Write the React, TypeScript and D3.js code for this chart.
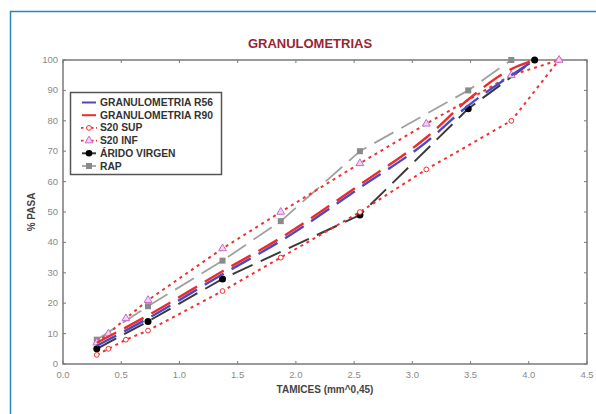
import * as d3 from 'd3';

// Tamices in mm^0.45 units
const TAM_GRAN = [0.29, 0.73, 1.37, 1.87, 2.55, 3.12, 3.48, 3.85, 4.05];
const R56 = [6, 15, 29.5, 40.5, 58, 73, 85, 95, 100];
const R90 = [7, 16, 30.5, 41.5, 59, 74.5, 87, 97, 100];

const TAM_S20 = [0.29, 0.39, 0.54, 0.73, 1.37, 1.87, 2.55, 3.12, 3.85, 4.26];
const S20_SUP = [3, 5, 8, 11, 24, 35, 50, 64, 80, 100];
const S20_INF = [7, 10, 15, 21, 38, 50, 66, 79, 95, 100];

const TAM_ARIDO = [0.29, 0.73, 1.37, 2.55, 3.48, 4.05];
const ARIDO = [5, 14, 28, 49, 84, 100];

const TAM_RAP = [0.29, 0.73, 1.37, 1.87, 2.55, 3.48, 3.85];
const RAP = [8, 19, 34, 47, 70, 90, 100];

const X_TICKS = [0, 0.5, 1, 1.5, 2, 2.5, 3, 3.5, 4, 4.5];
const Y_TICKS = [0, 10, 20, 30, 40, 50, 60, 70, 80, 90, 100];

const LEGEND = ['GRANULOMETRIA R56', 'GRANULOMETRIA R90', 'S20 SUP', 'S20 INF', 'ÁRIDO VIRGEN', 'RAP'];

const W = 596;
const H = 414;
const PLOT = { left: 63, right: 587, top: 60, bottom: 364 };
const FONT = '"Liberation Sans", Arial, sans-serif';

const C = {
  blue: '#4a4ac8',
  red: '#ec2c2c',
  dotted: '#f03030',
  black: '#3a3a3a',
  gray: '#a0a0a0',
  grayMark: '#8a8a8a',
  pink: '#c86ac8',
  frame: '#2a86c0',
};

const x = d3.scaleLinear().domain([0, 4.5]).range([PLOT.left, PLOT.right]);
const y = d3.scaleLinear().domain([0, 100]).range([PLOT.bottom, PLOT.top]);

type Pt = [number, number];
const zip = (xs: number[], ys: number[]): Pt[] => xs.map((v, i) => [v, ys[i]]);

const lineLinear = d3.line<Pt>().x((d) => x(d[0])).y((d) => y(d[1]));
const lineSmooth = d3
  .line<Pt>()
  .x((d) => x(d[0]))
  .y((d) => y(d[1]))
  .curve(d3.curveMonotoneX);

const tri = d3.symbol().type(d3.symbolTriangle).size(26);

export default function App() {
  const s20Sup = zip(TAM_S20, S20_SUP);
  const s20Inf = zip(TAM_S20, S20_INF);
  const arido = zip(TAM_ARIDO, ARIDO);
  const rap = zip(TAM_RAP, RAP);
  const r56 = zip(TAM_GRAN, R56);
  const r90 = zip(TAM_GRAN, R90);

  const legendY = (i: number) => 102.5 + i * 12.7;

  return (
    <div style={{ position: 'absolute', left: 0, top: 0 }}>
      <svg width={W} height={H} style={{ display: 'block', background: '#fff' }} fontFamily={FONT}>
        {/* frame */}
        <path d={`M10.5,${H} V11.5 H${W}`} fill="none" stroke={C.frame} strokeWidth={1.5} />

        {/* title */}
        <text x={310} y={48} textAnchor="middle" fontSize={13} fontWeight="bold" fill="#9a2434">
          GRANULOMETRIAS
        </text>

        {/* plot border */}
        <rect
          x={PLOT.left}
          y={PLOT.top}
          width={PLOT.right - PLOT.left}
          height={PLOT.bottom - PLOT.top}
          fill="none"
          stroke="#7a7a7a"
          strokeWidth={1.5}
        />

        {/* ticks */}
        {X_TICKS.map((t) => (
          <g key={`x${t}`}>
            <line x1={x(t)} x2={x(t)} y1={PLOT.bottom} y2={PLOT.bottom - 3} stroke="#7a7a7a" />
            <line x1={x(t)} x2={x(t)} y1={PLOT.top} y2={PLOT.top + 3} stroke="#7a7a7a" />
            <text x={x(t)} y={PLOT.bottom + 14} textAnchor="middle" fontSize={9.5} fill="#8a8a8a">
              {d3.format('.1f')(t)}
            </text>
          </g>
        ))}
        {Y_TICKS.map((t) => (
          <g key={`y${t}`}>
            <line x1={PLOT.left} x2={PLOT.left + 3} y1={y(t)} y2={y(t)} stroke="#7a7a7a" />
            <line x1={PLOT.right} x2={PLOT.right - 3} y1={y(t)} y2={y(t)} stroke="#7a7a7a" />
            <text x={58} y={y(t) + 3} textAnchor="end" fontSize={9.5} fill="#8a8a8a">
              {t}
            </text>
          </g>
        ))}

        {/* axis titles */}
        <text x={(PLOT.left + PLOT.right) / 2} y={393} textAnchor="middle" fontSize={10} fontWeight="bold" fill="#444">
          TAMICES (mm^0,45)
        </text>
        <text
          transform={`translate(35,${(PLOT.top + PLOT.bottom) / 2}) rotate(-90)`}
          textAnchor="middle"
          fontSize={10}
          fontWeight="bold"
          fill="#444"
        >
          % PASA
        </text>

        {/* RAP */}
        <path d={lineLinear(rap) ?? ''} fill="none" stroke={C.gray} strokeWidth={1.8} strokeDasharray="22,9" />
        {rap.map((d, i) => (
          <rect key={`rap${i}`} x={x(d[0]) - 3} y={y(d[1]) - 3} width={6} height={6} fill={C.grayMark} />
        ))}

        {/* Arido virgen */}
        <path d={lineLinear(arido) ?? ''} fill="none" stroke={C.black} strokeWidth={2} strokeDasharray="22,9" />
        {arido.map((d, i) => (
          <circle key={`ar${i}`} cx={x(d[0])} cy={y(d[1])} r={3.5} fill="#000" />
        ))}

        {/* S20 envelopes */}
        <path d={lineLinear(s20Sup) ?? ''} fill="none" stroke={C.dotted} strokeWidth={2} strokeDasharray="3,4" />
        <path d={lineLinear(s20Inf) ?? ''} fill="none" stroke={C.dotted} strokeWidth={2} strokeDasharray="3,4" />
        {s20Sup.map((d, i) => (
          <circle key={`sup${i}`} cx={x(d[0])} cy={y(d[1])} r={2.4} fill="#fff" stroke={C.dotted} strokeWidth={1} />
        ))}
        {s20Inf.map((d, i) => (
          <path
            key={`inf${i}`}
            d={tri() ?? ''}
            transform={`translate(${x(d[0])},${y(d[1])})`}
            fill="#f2d4f2"
            stroke={C.pink}
            strokeWidth={1}
          />
        ))}

        {/* Granulometrias */}
        <path d={lineSmooth(r56) ?? ''} fill="none" stroke={C.blue} strokeWidth={2.4} strokeDasharray="22,9" />
        <path d={lineSmooth(r90) ?? ''} fill="none" stroke={C.red} strokeWidth={2.4} strokeDasharray="22,9" />

        {/* legend */}
        <rect x={70.5} y={92.5} width={151} height={82} fill="#fff" stroke="#555" strokeWidth={1.5} />
        {LEGEND.map((label, i) => {
          const ly = legendY(i);
          return (
            <g key={label}>
              {i === 0 && <line x1={82} x2={96} y1={ly} y2={ly} stroke={C.blue} strokeWidth={2} />}
              {i === 1 && <line x1={82} x2={96} y1={ly} y2={ly} stroke={C.red} strokeWidth={2} />}
              {(i === 2 || i === 3) && (
                <line x1={81} x2={97} y1={ly} y2={ly} stroke={C.dotted} strokeWidth={1.6} strokeDasharray="2.5,2.5" />
              )}
              {i === 2 && <circle cx={89} cy={ly} r={2.4} fill="#fff" stroke={C.dotted} strokeWidth={1} />}
              {i === 3 && (
                <path d={tri() ?? ''} transform={`translate(89,${ly})`} fill="#f2d4f2" stroke={C.pink} strokeWidth={1} />
              )}
              {i === 4 && (
                <g>
                  <line x1={82} x2={96} y1={ly} y2={ly} stroke={C.black} strokeWidth={2} />
                  <circle cx={89} cy={ly} r={3.3} fill="#000" />
                </g>
              )}
              {i === 5 && (
                <g>
                  <line x1={82} x2={96} y1={ly} y2={ly} stroke={C.gray} strokeWidth={1.8} />
                  <rect x={86} y={ly - 3} width={6} height={6} fill={C.grayMark} />
                </g>
              )}
              <text x={100} y={ly + 3.5} fontSize={10.3} fontWeight="bold" fill="#333">
                {label}
              </text>
            </g>
          );
        })}
      </svg>
    </div>
  );
}
